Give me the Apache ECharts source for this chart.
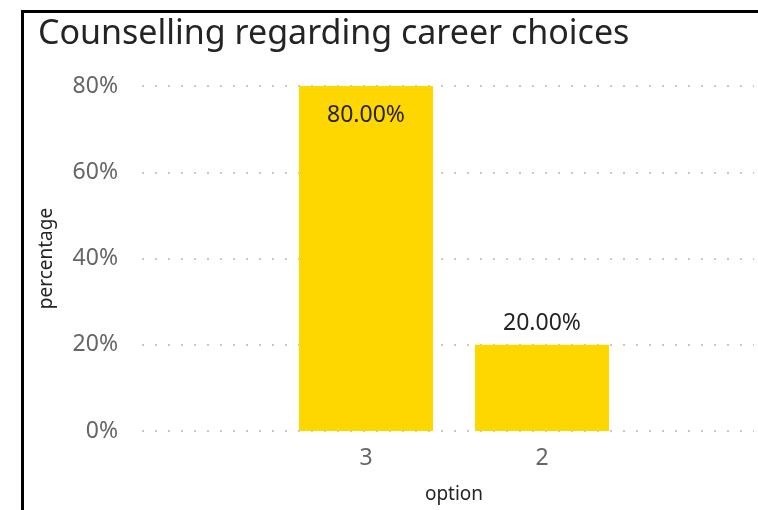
<!DOCTYPE html>
<html><head><meta charset="utf-8">
<script src="https://cdn.jsdelivr.net/npm/echarts@6/dist/echarts.min.js"></script>
<style>
html,body{margin:0;padding:0;background:#fff;}
#frame{position:absolute;left:21px;top:10px;width:760px;height:520px;border-left:3px solid #000;border-top:3px solid #000;box-sizing:border-box;}
#c{position:absolute;left:0;top:0;width:758px;height:510px;}
</style></head>
<body>
<div id="frame"></div>
<div id="c"></div>
<script>
const title = 'Counselling regarding career choices';
const categories = ['3', '2'];
const values = [80, 20];
const yTicks = [0, 20, 40, 60, 80];
const xName = 'option';
const yName = 'percentage';

const chart = echarts.init(document.getElementById('c'));
const gridColor = '#c8c8c8';
const font = 'Noto Sans';
chart.setOption({
  animation: false,
  title: {text: title, left: 33, top: 12, textStyle: {fontFamily: font, fontSize: 34, fontWeight: 'normal', color: '#252423'}},
  grid: [
    {left: 142, right: 4, top: 86, bottom: 79},
    {left: 278, right: 128, top: 86, bottom: 79}
  ],
  xAxis: [
    {gridIndex: 0, type: 'category', data: categories, show: false},
    {gridIndex: 1, type: 'category', data: categories,
      axisLine: {show: false}, axisTick: {show: false},
      axisLabel: {color: '#666666', fontSize: 23, fontFamily: font, margin: 16},
      name: xName, nameLocation: 'middle', nameGap: 54,
      nameTextStyle: {color: '#252423', fontSize: 19, fontFamily: font}}
  ],
  yAxis: [
    {gridIndex: 0, type: 'value', min: 0, max: 80, interval: 20,
      axisLine: {show: false}, axisTick: {show: false},
      axisLabel: {color: '#666666', fontSize: 23, fontFamily: font, margin: 24, formatter: v => yTicks.includes(v) ? v + '%' : ''},
      splitLine: {lineStyle: {color: gridColor, width: 2, type: [2, 11]}},
      name: yName, nameLocation: 'middle', nameGap: 86, nameRotate: 90,
      nameTextStyle: {color: '#252423', fontSize: 19, fontFamily: font}},
    {gridIndex: 1, type: 'value', min: 0, max: 80, interval: 20, show: false, splitLine: {show: false}}
  ],
  series: [{
    type: 'bar', xAxisIndex: 1, yAxisIndex: 1, barWidth: 134,
    itemStyle: {color: '#FFD700'},
    label: {show: true, position: 'insideTop', distance: 18, color: '#252423', fontSize: 23, fontFamily: font,
      formatter: p => p.value.toFixed(2) + '%'},
    data: values.map(v => ({value: v, label: v < 50 ? {position: 'top', distance: 10} : {}}))
  }]
});
</script>
</body></html>
